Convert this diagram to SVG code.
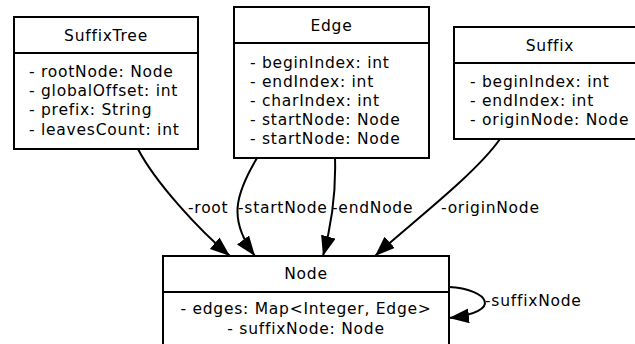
<svg xmlns="http://www.w3.org/2000/svg" width="635" height="344" viewBox="0 0 635 344">
  <style>
    .box { fill: #ffffff; stroke: #000000; stroke-width: 2; }
    .sep { stroke: #000000; stroke-width: 2; }
    text { font-family: "DejaVu Sans", sans-serif; font-size: 15.5px; letter-spacing: 0.75px; fill: #000000; }
    .title { text-anchor: middle; }
    .mid { text-anchor: middle; }
    .conn { fill: none; stroke: #000000; stroke-width: 2; marker-end: url(#arrow); }
  </style>
  <defs>
    <marker id="arrow" markerUnits="userSpaceOnUse" markerWidth="21" markerHeight="16" refX="20" refY="7.5" orient="auto">
      <path d="M0,0 L20,7.5 L0,15 z" fill="#000000"/>
    </marker>
  </defs>
  <rect width="635" height="344" fill="#ffffff"/>

  <g id="connectors">
    <path class="conn" d="M138,149 C155,182 199,230 230,256"/>
    <path class="conn" d="M257,158 C235,195 228,220 255,256"/>
    <path class="conn" d="M335,158 C336,190 333,220 323,256"/>
    <path class="conn" d="M500,139 C475,175 405,228 375,256"/>
    <path class="conn" d="M449,287 C488,289 505,312 449,318"/>
    <text x="188" y="212.5">-root</text>
    <text x="238" y="212.5">-startNode</text>
    <text x="332" y="212.5">-endNode</text>
    <text x="441" y="212.5">-originNode</text>
    <text x="485" y="306">-suffixNode</text>
  </g>

  <g id="SuffixTree">
    <rect class="box" x="14" y="17" width="184" height="132"/>
    <line class="sep" x1="14" y1="53" x2="198" y2="53"/>
    <text class="title" x="106" y="40.5">SuffixTree</text>
    <text x="29" y="76.5">- rootNode: Node</text>
    <text x="29" y="95.5">- globalOffset: int</text>
    <text x="29" y="115">- prefix: String</text>
    <text x="29" y="134.5">- leavesCount: int</text>
  </g>

  <g id="Edge">
    <rect class="box" x="234" y="7" width="195" height="151"/>
    <line class="sep" x1="234" y1="43" x2="429" y2="43"/>
    <text class="title" x="331.5" y="30.5">Edge</text>
    <text x="250" y="67.5">- beginIndex: int</text>
    <text x="250" y="86.5">- endIndex: int</text>
    <text x="250" y="105.5">- charIndex: int</text>
    <text x="250" y="124.5">- startNode: Node</text>
    <text x="250" y="144">- startNode: Node</text>
  </g>

  <g id="Suffix">
    <rect class="box" x="454" y="27" width="192" height="112"/>
    <line class="sep" x1="454" y1="63" x2="646" y2="63"/>
    <text class="title" x="550" y="50.5">Suffix</text>
    <text x="470" y="86.5">- beginIndex: int</text>
    <text x="470" y="105.5">- endIndex: int</text>
    <text x="470" y="124.5">- originNode: Node</text>
  </g>

  <g id="Node">
    <rect class="box" x="163" y="256" width="286" height="92"/>
    <line class="sep" x1="163" y1="292" x2="449" y2="292"/>
    <text class="title" x="306" y="278.5">Node</text>
    <text class="mid" x="306" y="313.5">- edges: Map&lt;Integer, Edge&gt;</text>
    <text class="mid" x="306" y="333.5">- suffixNode: Node</text>
  </g>
</svg>
